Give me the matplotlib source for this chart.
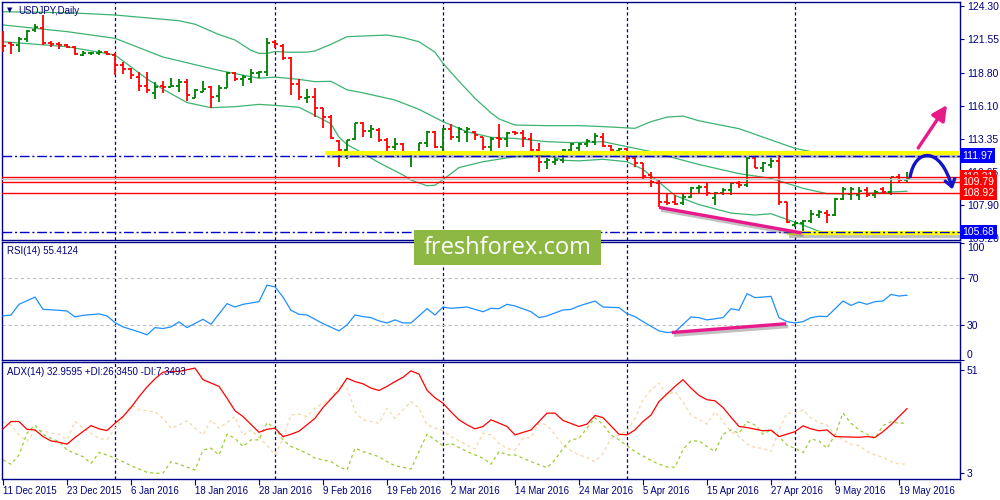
import matplotlib
matplotlib.use('Agg')
import matplotlib.pyplot as plt
from matplotlib.collections import LineCollection
from matplotlib.patches import Rectangle, FancyArrowPatch
from matplotlib.path import Path
import matplotlib.patheffects as pe
from matplotlib.transforms import blended_transform_factory

plt.rcParams['font.family'] = ['Liberation Sans', 'DejaVu Sans']

# ---------------- data ----------------
date_labels = ['11 Dec 2015', '23 Dec 2015', '6 Jan 2016', '18 Jan 2016', '28 Jan 2016',
               '9 Feb 2016', '19 Feb 2016', '2 Mar 2016', '14 Mar 2016', '24 Mar 2016',
               '5 Apr 2016', '15 Apr 2016', '27 Apr 2016', '9 May 2016', '19 May 2016']
date_label_bars = [0, 8, 16, 24, 32, 40, 48, 56, 64, 72, 80, 88, 96, 104, 112]
month_start_bars = [14, 34, 55, 78, 99]

opens = [121.36, 121.23, 121.09, 121.56, 122.32, 122.46, 121.23, 121.14, 121.06, 120.90,
         120.29, 120.40, 120.40, 120.51, 120.27, 119.44, 119.08, 118.48, 117.71, 117.16,
         117.71, 117.60, 117.71, 118.07, 116.70, 117.25, 117.60, 116.89, 117.52, 118.76,
         118.29, 118.32, 118.76, 118.87, 121.31, 121.01, 119.99, 117.88, 116.70, 116.84,
         115.87, 115.19, 113.21, 112.44, 113.32, 114.64, 114.04, 114.09, 113.27, 112.72,
         112.94, 112.17, 112.22, 112.99, 113.95, 112.72, 114.15, 113.54, 113.95, 113.95,
         113.49, 112.72, 113.41, 113.32, 113.93, 113.87, 113.32, 112.44, 111.48, 111.48,
         111.62, 112.44, 112.58, 112.94, 113.13, 113.54, 112.77, 112.39, 112.50, 111.76,
         111.35, 110.39, 109.70, 108.19, 108.20, 108.05, 108.60, 109.29, 109.43, 108.47,
         108.88, 109.15, 109.70, 109.56, 111.80, 110.95, 111.20, 111.55, 108.19, 106.25,
         106.45, 106.60, 107.10, 107.25, 107.10, 108.40, 108.85, 108.70, 109.15, 108.70,
         109.25, 109.00, 110.20, 109.95]
highs = [122.27, 121.31, 121.77, 122.32, 122.82, 123.56, 121.45, 121.31, 121.17, 121.01,
         120.62, 120.54, 120.68, 120.57, 120.40, 119.72, 119.17, 118.87, 118.89, 118.07,
         118.15, 118.37, 118.26, 118.26, 117.44, 118.15, 117.71, 117.80, 118.84, 118.89,
         118.62, 119.09, 118.98, 121.64, 121.50, 121.17, 120.07, 118.26, 117.44, 117.52,
         115.87, 115.33, 113.27, 113.27, 114.70, 114.78, 114.50, 114.23, 113.41, 113.41,
         113.05, 112.31, 113.05, 114.01, 114.01, 114.23, 114.59, 114.31, 114.31, 114.01,
         113.54, 113.49, 114.59, 113.93, 114.04, 114.09, 113.82, 113.05, 111.76, 111.90,
         112.50, 112.99, 113.05, 113.32, 113.82, 113.82, 112.86, 112.58, 112.58, 111.90,
         111.35, 110.66, 109.97, 108.88, 108.74, 108.88, 109.43, 109.56, 109.76, 109.01,
         109.29, 109.84, 109.92, 111.87, 111.90, 111.48, 111.76, 112.03, 108.19, 106.54,
         106.68, 107.50, 107.50, 107.50, 108.47, 109.43, 109.43, 109.43, 109.43, 109.15,
         109.43, 110.25, 110.47, 110.61]
lows = [120.54, 120.32, 120.54, 121.36, 122.19, 121.09, 120.90, 120.73, 120.81, 120.24,
        120.18, 120.24, 120.29, 120.27, 118.62, 118.70, 118.26, 117.33, 117.16, 116.62,
        117.11, 117.60, 117.25, 116.51, 116.70, 117.22, 115.93, 116.40, 117.52, 118.15,
        117.71, 117.99, 118.34, 118.54, 120.81, 119.85, 116.97, 116.56, 116.29, 115.19,
        114.23, 113.32, 111.07, 111.68, 113.27, 113.54, 113.41, 113.13, 112.31, 112.44,
        112.17, 111.07, 112.17, 112.72, 112.65, 112.03, 113.27, 113.13, 113.13, 113.27,
        112.44, 112.22, 112.58, 112.72, 113.65, 112.72, 112.31, 110.66, 110.85, 111.21,
        111.40, 112.17, 112.22, 112.72, 112.86, 112.72, 112.03, 112.03, 111.62, 111.07,
        109.97, 109.43, 107.78, 107.92, 107.92, 107.92, 108.47, 108.88, 108.66, 107.92,
        108.74, 108.74, 109.29, 109.40, 110.93, 110.66, 110.93, 107.92, 106.41, 106.13,
        105.58, 106.41, 106.82, 106.41, 107.05, 108.33, 108.33, 108.33, 108.60, 108.47,
        108.88, 108.74, 109.84, 109.84]
closes = [121.01, 121.09, 121.56, 122.27, 122.60, 121.23, 121.14, 121.06, 120.95, 120.32,
          120.46, 120.42, 120.51, 120.35, 119.44, 119.08, 118.62, 117.71, 117.38, 117.66,
          117.60, 117.71, 118.07, 116.97, 117.38, 117.44, 116.84, 117.58, 118.76, 118.26,
          118.48, 118.76, 118.87, 121.23, 121.17, 119.99, 117.88, 116.78, 116.78, 115.87,
          115.13, 113.41, 112.44, 113.27, 114.64, 114.04, 114.15, 113.27, 112.72, 112.94,
          112.22, 112.22, 112.99, 113.95, 112.72, 114.15, 113.54, 114.15, 114.15, 113.68,
          112.72, 113.32, 113.32, 113.82, 113.82, 113.41, 112.44, 111.48, 111.62, 111.62,
          112.44, 112.94, 112.94, 113.21, 113.60, 112.77, 112.44, 112.50, 111.76, 111.35,
          110.30, 109.84, 108.19, 108.05, 108.00, 108.60, 109.29, 109.43, 108.88, 108.88,
          109.15, 109.70, 109.56, 111.80, 111.00, 111.40, 111.55, 108.20, 106.50, 106.45,
          106.60, 107.20, 107.30, 107.10, 108.40, 109.20, 109.25, 109.10, 108.75, 108.95,
          109.00, 110.20, 110.00, 110.15]

bb_upper = [(0, 123.83), (8, 123.75), (14, 123.56), (22, 123.09), (24, 122.8), (27, 121.95),
            (29, 121.5), (31, 120.65), (32, 120.40), (33, 120.40), (34, 120.55), (36, 120.49),
            (38, 120.5), (39, 120.6), (41, 121.15), (43, 121.77), (45, 121.83), (48, 121.91),
            (50, 121.7), (52, 121.36), (54, 120.5), (55, 119.58), (57, 118.1), (59, 116.7),
            (61, 115.5), (62, 115.0), (64, 114.5), (68, 114.45), (72, 114.45), (75, 114.37),
            (79, 114.23), (81, 114.78), (83, 115.15), (85, 115.24), (87, 114.85), (92, 114.2),
            (96, 113.27), (99, 112.58), (101, 112.31), (113, 112.28)]
bb_middle = [(0, 122.74), (8, 122.19), (14, 121.64), (20, 120.1), (27, 119.0), (32, 118.35),
             (34, 118.45), (37, 118.26), (39, 118.07), (41, 118.1), (43, 117.4), (45, 117.15),
             (49, 116.56), (52, 115.79), (55, 114.78), (58, 113.95), (61, 113.49), (64, 113.40),
             (68, 113.13), (71, 113.05), (75, 113.13), (78, 112.72), (81, 112.31), (83, 111.95),
             (87, 111.25), (92, 110.5), (96, 110.11), (100, 109.29), (103, 108.85), (106, 108.82),
             (110, 108.95), (113, 109.05)]
bb_lower = [(0, 121.36), (8, 120.95), (14, 120.27), (18, 118.3), (20, 117.45), (23, 116.35),
            (26, 115.93), (29, 116.01), (32, 116.20), (34, 116.12), (37, 115.96), (39, 115.3),
            (41, 114.6), (42, 113.5), (43, 112.9), (45, 112.17), (47, 111.4), (50, 110.39),
            (51, 109.97), (53, 109.5), (54, 109.55), (55, 110.0), (57, 111.0), (60, 111.48),
            (64, 111.90), (68, 112.03), (70, 111.6), (72, 111.55), (75, 111.68), (78, 111.48),
            (80, 110.85), (82, 109.8), (84, 108.7), (87, 107.95), (91, 107.25), (94, 107.09),
            (96, 107.2), (97, 106.96), (100, 106.27), (102, 105.75), (106, 105.58), (113, 105.64)]

rsi_points = [(0, 37.7), (1, 38.5), (2, 47.6), (4, 53.8), (5, 43.3), (7, 42.5), (8, 41.9),
              (9, 36.8), (10, 38.2), (12, 39.4), (13, 37.7), (14, 32.0), (15, 28.3), (17, 24.0),
              (18, 21.5), (19, 27.7), (20, 26.9), (21, 28.3), (22, 32.6), (23, 27.7), (25, 34.8),
              (26, 30.6), (28, 48.2), (29, 45.3), (30, 47.6), (32, 49.9), (33, 64.0), (34, 62.6),
              (35, 53.8), (36, 42.5), (37, 39.1), (38, 38.5), (39, 34.8), (40, 31.1), (42, 24.9),
              (43, 30.0), (44, 38.5), (45, 37.1), (46, 36.2), (47, 33.4), (48, 31.7), (49, 34.3),
              (50, 31.7), (51, 31.7), (52, 37.7), (53, 43.9), (54, 38.5), (55, 45.3), (56, 44.2),
              (58, 45.3), (59, 43.3), (60, 41.3), (61, 44.2), (62, 43.9), (63, 47.6), (64, 46.2),
              (66, 41.3), (67, 36.2), (68, 37.7), (70, 42.8), (71, 43.3), (72, 46.2), (74, 50.4),
              (75, 45.3), (77, 44.8), (78, 39.6), (79, 37.1), (80, 32.8), (82, 24.9), (83, 23.5),
              (84, 24.0), (86, 36.8), (87, 36.2), (88, 34.3), (90, 36.2), (91, 43.9), (92, 42.5),
              (93, 56.7), (94, 53.3), (96, 54.4), (97, 36.2), (98, 32.8), (99, 31.7), (100, 32.8),
              (101, 36.2), (102, 37.4), (103, 37.1), (105, 50.4), (106, 46.7), (107, 49.6),
              (108, 47.6), (109, 49.9), (110, 50.4), (111, 56.1), (112, 54.7), (113, 55.41)]

adx_points = [(0, 23.6), (1, 27.0), (2, 27.0), (3, 23.4), (4, 23.1), (5, 20.0), (6, 18.0),
              (7, 17.4), (8, 16.5), (9, 19.6), (11, 25.1), (12, 23.6), (13, 22.8), (14, 26.2),
              (15, 29.3), (16, 33.5), (17, 38.5), (18, 43.0), (19, 46.8), (20, 49.9), (21, 50.2),
              (22, 50.2), (23, 51.0), (24, 51.8), (25, 46.4), (27, 43.3), (28, 37.8), (29, 32.0),
              (30, 29.3), (32, 22.0), (33, 23.4), (34, 23.9), (35, 20.0), (36, 21.1), (37, 22.5),
              (38, 25.5), (39, 28.5), (40, 33.5), (41, 37.5), (42, 41.5), (43, 47.1), (44, 45.5),
              (45, 44.5), (46, 42.5), (47, 41.4), (48, 43.3), (49, 45.5), (50, 47.5), (51, 50.5),
              (52, 49.0), (53, 41.5), (54, 38.0), (55, 35.5), (56, 31.5), (57, 27.8), (58, 25.5),
              (59, 23.6), (60, 24.7), (61, 27.8), (63, 24.7), (64, 20.8), (66, 23.1), (68, 30.9),
              (69, 30.9), (70, 27.5), (72, 24.7), (73, 25.8), (74, 29.8), (75, 28.8), (77, 21.1),
              (78, 20.8), (79, 23.1), (80, 27.0), (81, 30.0), (82, 36.3), (84, 43.3), (85, 46.4),
              (86, 42.5), (87, 39.1), (88, 37.1), (89, 36.6), (90, 33.5), (91, 29.0), (92, 24.7),
              (93, 24.2), (95, 22.7), (96, 23.0), (97, 20.0), (99, 22.3), (100, 25.0), (101, 23.6),
              (102, 22.7), (103, 23.1), (104, 20.0), (107, 19.7), (108, 20.0), (109, 19.6),
              (110, 22.3), (111, 25.5), (112, 29.3), (113, 32.96)]

plus_di_points = [(0, 9.2), (1, 7.2), (2, 11.5), (3, 21.6), (4, 25.4), (5, 21.1), (6, 19.2),
                  (7, 17.7), (8, 13.8), (10, 10.7), (11, 7.6), (12, 12.6), (13, 11.5), (14, 10.0),
                  (15, 8.4), (16, 6.5), (17, 5.0), (18, 3.5), (19, 3.0), (20, 3.0), (21, 8.4),
                  (22, 7.2), (24, 4.5), (25, 13.8), (26, 14.6), (27, 11.5), (28, 21.1), (29, 19.2),
                  (30, 15.4), (31, 18.5), (32, 18.5), (33, 26.5), (34, 23.9), (35, 18.5), (36, 15.4),
                  (38, 12.3), (39, 10.0), (41, 8.4), (42, 6.0), (43, 4.5), (44, 14.6), (45, 13.1),
                  (47, 10.7), (48, 8.4), (49, 6.5), (51, 5.0), (52, 13.1), (53, 21.1), (54, 18.5),
                  (55, 15.8), (56, 16.9), (58, 13.1), (60, 10.0), (61, 7.2), (62, 13.1), (63, 11.5),
                  (64, 11.5), (65, 10.0), (66, 8.4), (67, 7.0), (68, 5.6), (69, 9.2), (70, 14.6),
                  (71, 18.5), (72, 19.2), (73, 23.9), (74, 28.8), (75, 25.5), (76, 20.8), (77, 18.5),
                  (78, 15.8), (79, 13.1), (80, 11.0), (81, 9.0), (82, 7.2), (83, 6.0), (84, 5.8),
                  (85, 14.0), (86, 18.0), (87, 18.0), (88, 15.4), (89, 13.1), (90, 21.1), (91, 23.1),
                  (92, 21.6), (93, 27.0), (94, 25.4), (95, 21.1), (96, 23.1), (97, 20.0), (98, 16.1),
                  (99, 14.6), (100, 12.6), (101, 18.9), (102, 18.0), (103, 14.6), (104, 20.8),
                  (105, 30.9), (106, 26.2), (107, 23.1), (108, 21.1), (109, 19.2), (110, 25.1),
                  (111, 26.9), (112, 26.2), (113, 26.35)]

minus_di_points = [(0, 26.7), (1, 25.4), (2, 20.8), (3, 17.7), (4, 23.1), (5, 22.7), (6, 21.6),
                   (7, 21.1), (8, 18.5), (9, 27.0), (10, 23.9), (12, 19.2), (13, 18.5), (14, 23.9),
                   (15, 28.5), (16, 34.7), (17, 32.5), (18, 31.9), (19, 31.6), (20, 28.5), (21, 23.9),
                   (22, 25.4), (23, 27.3), (25, 20.8), (26, 27.8), (27, 23.9), (29, 29.3), (30, 20.5),
                   (31, 23.1), (32, 19.5), (33, 16.0), (34, 11.5), (35, 19.2), (36, 30.1), (37, 30.4),
                   (38, 29.3), (39, 33.2), (41, 37.8), (42, 43.7), (43, 42.5), (44, 31.6), (45, 27.8),
                   (47, 26.2), (48, 33.2), (49, 28.5), (50, 32.4), (51, 36.3), (52, 33.2), (53, 25.4),
                   (55, 22.7), (56, 20.0), (58, 16.1), (59, 14.3), (60, 21.6), (61, 20.8), (62, 16.9),
                   (63, 14.6), (64, 13.8), (65, 19.2), (66, 19.6), (67, 26.2), (68, 25.4), (69, 20.8),
                   (70, 16.1), (71, 13.5), (72, 11.5), (73, 10.3), (74, 8.4), (75, 12.3), (76, 19.2),
                   (77, 20.8), (78, 22.7), (79, 28.5), (80, 37.1), (81, 41.7), (82, 44.8), (83, 39.4),
                   (84, 40.9), (85, 36.0), (86, 30.0), (87, 27.8), (88, 25.8), (89, 31.6), (90, 27.0),
                   (91, 22.3), (92, 20.0), (93, 16.5), (94, 14.9), (95, 14.6), (96, 13.1), (97, 23.1),
                   (98, 30.9), (99, 30.9), (100, 32.4), (101, 28.5), (102, 26.5), (103, 25.4),
                   (104, 20.8), (105, 18.5), (106, 16.5), (107, 15.8), (108, 13.1), (109, 11.5),
                   (110, 10.5), (111, 8.5), (112, 7.2), (113, 7.35)]

price_ticks = [124.30, 121.55, 118.80, 116.10, 113.35, 110.65, 107.90, 105.20]
support_resistance = [111.97, 105.68]
red_levels = [110.21, 109.79, 108.92]
bid_level = 110.08
yellow_zones = [(40.3, 112.22), (98.0, 105.60)]       # (start bar, price)
price_trend = [(82.0, 107.72), (99.8, 105.62)]
rsi_trend = [(83.6, 23.5), (97.9, 31.0)]
up_arrow = [(114.4, 112.61), (118.0, 116.15)]
curve_arrow = [(113.4, 110.25), (114.0, 112.6), (117.2, 112.8), (118.7, 109.2)]

# ---------------- layout ----------------
W, H = 1000, 500
NAVY = '#00008B'
TXT = '#000080'
fig = plt.figure(figsize=(W / 100, H / 100), dpi=100)
fig.patch.set_facecolor('white')


def rect(x0, y0, x1, y1):
    return [x0 / W, 1 - y1 / H, (x1 - x0) / W, (y1 - y0) / H]


ax1 = fig.add_axes(rect(2, 2, 960, 240))
ax2 = fig.add_axes(rect(2, 242, 960, 360))
ax3 = fig.add_axes(rect(2, 362, 960, 479))
XL = (-0.125, 119.625)
for ax in (ax1, ax2, ax3):
    ax.set_xlim(*XL)
    ax.set_facecolor('white')
    for s in ax.spines.values():
        s.set_color(NAVY)
        s.set_linewidth(1.0)
    ax.yaxis.tick_right()
    ax.tick_params(axis='y', direction='out', length=3, width=0.8, color=NAVY,
                   labelcolor=TXT, labelsize=7.5, pad=2)
    for b in month_start_bars:
        ax.axvline(b, color=NAVY, lw=0.9, ls=(0, (2.5, 2.0)), zorder=1)

ax1.set_ylim(105.035, 124.63)
ax2.set_ylim(0.5, 100.9)
ax3.set_ylim(0.35, 54.6)

ax1.set_xticks([])
ax2.set_xticks([])
ax3.set_xticks(date_label_bars)
ax3.set_xticklabels(date_labels)
ax3.tick_params(axis='x', direction='out', length=4, width=0.8, color=NAVY,
                labelcolor=TXT, labelsize=6.9, pad=1)
for lab in ax3.get_xticklabels():
    lab.set_ha('left')

ax1.set_yticks(price_ticks)
ax1.set_yticklabels(['%.2f' % v for v in price_ticks])
ax2.set_yticks([100, 70, 30, 0])
ax2.set_yticklabels(['100', '70', '30', '0'])
labs = ax2.get_yticklabels()
labs[0].set_va('top')
labs[3].set_va('bottom')
ax3.set_yticks([51, 3])
ax3.set_yticklabels(['51', '3'])
labs = ax3.get_yticklabels()

# ---------------- price panel ----------------
shadow = [pe.SimpleLineShadow(offset=(1.5, -2), shadow_color='#777777', alpha=0.45), pe.Normal()]

for pts in (bb_upper, bb_middle, bb_lower):
    ax1.plot([p[0] for p in pts], [p[1] for p in pts], color='#3CB371', lw=0.9, zorder=2)

segs, cols = [], []
for i, (o, h, l, c) in enumerate(zip(opens, highs, lows, closes)):
    col = '#008000' if c >= o else '#FF0000'
    segs += [[(i, l), (i, h)], [(i - 0.38, o), (i, o)], [(i, c), (i + 0.38, c)]]
    cols += [col, col, col]
ax1.add_collection(LineCollection(segs, colors=cols, linewidths=1.3, zorder=3))

for x0, y in yellow_zones:
    ax1.plot([x0, XL[1]], [y, y], color='#FFFF00', lw=3.0, solid_capstyle='butt',
             zorder=4, path_effects=shadow)
for v in support_resistance:
    ax1.axhline(v, color='#0000CD', lw=1.0, ls=(0, (7, 2, 1.5, 2)), zorder=5)
ax1.axhline(bid_level, color='#C8C8C8', lw=1.0, zorder=4)
for v in red_levels:
    ax1.axhline(v, color='#FF0000', lw=1.0, zorder=5)

ax1.plot([p[0] for p in price_trend], [p[1] for p in price_trend], color='#E8198B', lw=2.4,
         solid_capstyle='butt', zorder=6, path_effects=shadow)
ax1.annotate('', xy=up_arrow[1], xytext=up_arrow[0], annotation_clip=False,
             arrowprops=dict(arrowstyle='-|>,head_length=0.9,head_width=0.45', color='#E8198B',
                             lw=2.4, shrinkA=0, shrinkB=0), zorder=7)
cpath = Path(curve_arrow, [Path.MOVETO, Path.CURVE4, Path.CURVE4, Path.CURVE4])
ax1.add_patch(FancyArrowPatch(path=cpath, arrowstyle='->,head_length=5,head_width=3.5',
                              color='#1414C8', lw=2.4, zorder=7, clip_on=False))

# right side value labels
tr = blended_transform_factory(fig.transFigure, ax1.transData)


def rlabel(v, fc, z):
    ax1.text(0.9625, v, '%.2f' % v, transform=tr, ha='left', va='center', color='white',
             fontsize=7.5, zorder=z, clip_on=False,
             bbox=dict(boxstyle='square,pad=0.22', fc=fc, ec='none'))


rlabel(support_resistance[0], '#0000FF', 10)
rlabel(support_resistance[1], '#0000FF', 10)
for k, v in enumerate(red_levels):
    rlabel(v, '#FF0000', 11 + k)

# ---------------- RSI panel ----------------
for lv in (70, 30):
    ax2.axhline(lv, color='#C0C0C0', lw=0.8, ls=(0, (3, 2.5)), zorder=1)
ax2.plot([p[0] for p in rsi_points], [p[1] for p in rsi_points], color='#1E90FF', lw=0.9, zorder=3)
ax2.plot([p[0] for p in rsi_trend], [p[1] for p in rsi_trend], color='#E8198B', lw=2.4,
         solid_capstyle='butt', zorder=4, path_effects=shadow)

# ---------------- ADX panel ----------------
ax3.plot([p[0] for p in minus_di_points], [p[1] for p in minus_di_points], color='#F5D7A8',
         lw=0.9, ls=(0, (2.5, 2.5)), zorder=2)
ax3.plot([p[0] for p in plus_di_points], [p[1] for p in plus_di_points], color='#9ACD32',
         lw=0.9, ls=(0, (2.5, 2.5)), zorder=2)
ax3.plot([p[0] for p in adx_points], [p[1] for p in adx_points], color='#FF0000', lw=0.9, zorder=3)

# ---------------- texts ----------------
fig.text(9.5 / W, 1 - 10.5 / H, '\u25BC', fontsize=5, color=TXT, ha='center', va='center',
         family='DejaVu Sans')
fig.text(18 / W, 1 - 11 / H, 'USDJPY,Daily', fontsize=7, color=TXT, ha='left', va='center')
fig.text(7 / W, 1 - 251.5 / H, 'RSI(14) 55.4124', fontsize=7, color=TXT, ha='left', va='center')
fig.text(7 / W, 1 - 372 / H, 'ADX(14) 32.9595 +DI:26.3450 -DI:7.3493', fontsize=7, color=TXT,
         ha='left', va='center')

# watermark
fig.add_artist(Rectangle((414 / W, 1 - 265 / H), 187 / W, 35 / H, transform=fig.transFigure,
                         fc='#8DB843', ec='none', zorder=20))
fig.text(507.5 / W, 1 - 248 / H, 'freshforex.com', fontsize=17, color='white', ha='center',
         va='center', family='Open Sans', zorder=21)

fig.savefig('out.png', dpi=100, facecolor='white')
